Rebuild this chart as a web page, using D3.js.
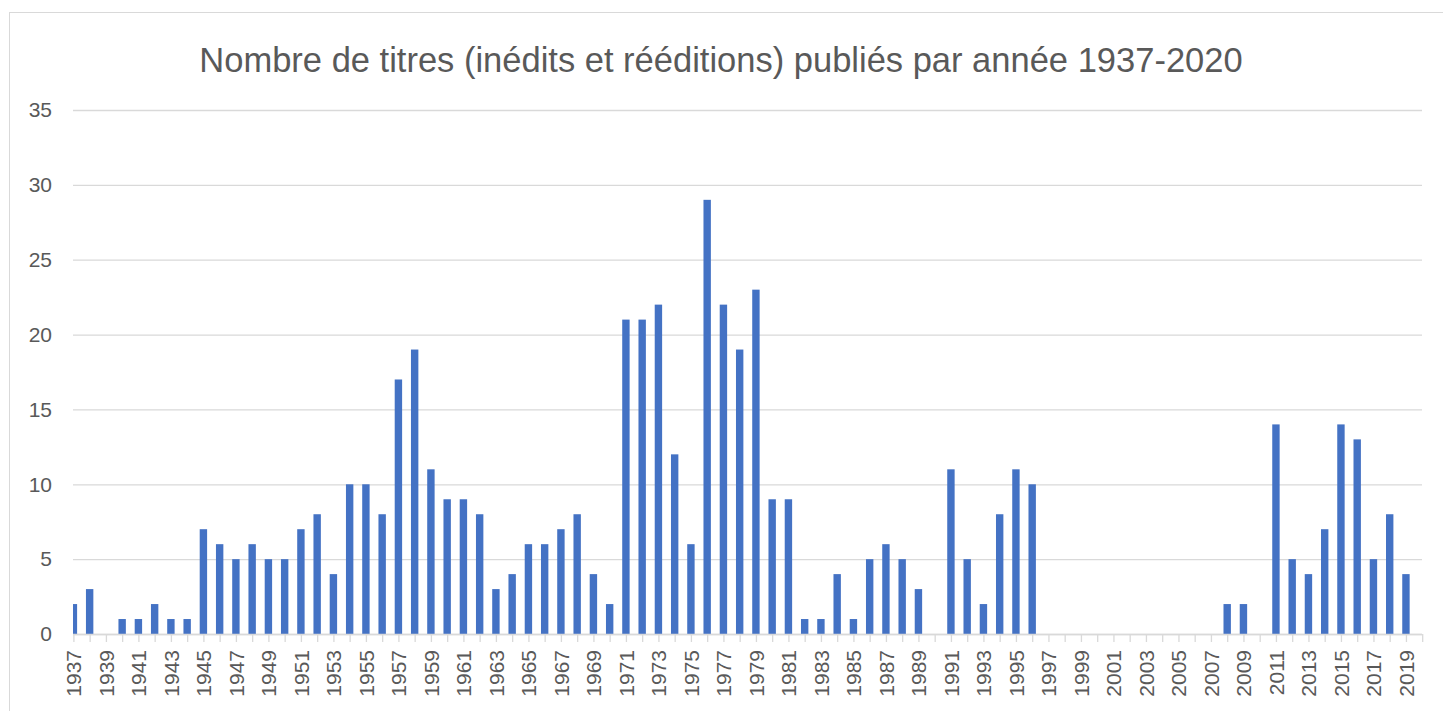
<!DOCTYPE html>
<html>
<head>
<meta charset="utf-8">
<script src="https://cdn.jsdelivr.net/npm/d3@7"></script>
<style>
  html, body { margin: 0; padding: 0; background: #fff; }
  svg { display: block; font-family: "Liberation Sans", Arial, sans-serif; }
</style>
</head>
<body>
<svg id="chart" width="1443" height="711"></svg>
<script>
const chartTitle = "Nombre de titres (inédits et rééditions) publiés par année 1937-2020";
const years = d3.range(1937, 2021).map(String);
const values = [
  2, 3, 0, 1, 1, 2, 1, 1, 7, 6,      // 1937-1946
  5, 6, 5, 5, 7, 8, 4, 10, 10, 8,    // 1947-1956
  17, 19, 11, 9, 9, 8, 3, 4, 6, 6,   // 1957-1966
  7, 8, 4, 2, 21, 21, 22, 12, 6, 29, // 1967-1976
  22, 19, 23, 9, 9, 1, 1, 4, 1, 5,   // 1977-1986
  6, 5, 3, 0, 11, 5, 2, 8, 11, 10,   // 1987-1996
  0, 0, 0, 0, 0, 0, 0, 0, 0, 0,      // 1997-2006
  0, 2, 2, 0, 14, 5, 4, 7, 14, 13,   // 2007-2016
  5, 8, 4, 0                         // 2017-2020
];
const yTicks = [0, 5, 10, 15, 20, 25, 30, 35];
const xLabelYears = years.filter((d, i) => i % 2 === 0 && d !== "2020");

const data = years.map((y, i) => ({ year: y, value: values[i] }));

const svg = d3.select("#chart");
const textColor = "#595959";
const gridColor = "#d9d9d9";
const barColor = "#4472c4";

// outer border
svg.append("rect")
  .attr("x", 9.5).attr("y", 12.5)
  .attr("width", 1460).attr("height", 720)
  .attr("fill", "none").attr("stroke", gridColor).attr("stroke-width", 1);

const plotLeft = 73, plotRight = 1422;
const x = d3.scalePoint().domain(years).range([plotLeft + 0.4, plotRight + 0.2]);
const y = d3.scaleLinear().domain([0, 35]).range([634, 110]);
const barW = 7.4;

// title
svg.append("text")
  .attr("x", 721).attr("y", 72)
  .attr("text-anchor", "middle")
  .attr("fill", textColor)
  .attr("font-size", 34.5)
  .text(chartTitle);

// y gridlines + labels
const yAxis = svg.append("g")
  .attr("transform", `translate(${plotLeft},0)`)
  .call(d3.axisLeft(y).tickValues(yTicks).tickSize(-(plotRight - plotLeft)).tickPadding(21).tickFormat(d3.format("d")));
yAxis.select(".domain").remove();
yAxis.selectAll(".tick line").attr("stroke", gridColor).attr("stroke-width", 1.3);
yAxis.selectAll(".tick text").attr("fill", textColor).attr("font-size", 21)
  .attr("font-family", "Liberation Sans, Arial, sans-serif");

// bars
svg.append("clipPath").attr("id", "plotclip")
  .append("rect").attr("x", plotLeft).attr("y", 0).attr("width", plotRight - plotLeft + 10).attr("height", 700);

svg.append("g").attr("clip-path", "url(#plotclip)")
  .selectAll("rect.bar")
  .data(data.filter(d => d.value > 0))
  .join("rect")
  .attr("class", "bar")
  .attr("x", d => x(d.year) - barW / 2)
  .attr("width", barW)
  .attr("y", d => y(d.value))
  .attr("height", d => y(0) - y(d.value))
  .attr("fill", barColor);

// x axis
const xAxis = svg.append("g")
  .attr("transform", `translate(0,${y(0)})`)
  .call(d3.axisBottom(x).tickSize(8).tickPadding(8)
    .tickFormat(d => xLabelYears.includes(d) ? d : ""));
xAxis.select(".domain").attr("stroke", gridColor).attr("stroke-width", 1.3)
  .attr("d", `M${plotLeft},0.5H${plotRight}`);
xAxis.selectAll(".tick line").attr("stroke", gridColor).attr("stroke-width", 1.3);
xAxis.selectAll(".tick text")
  .attr("fill", textColor)
  .attr("font-size", 21)
  .attr("font-family", "Liberation Sans, Arial, sans-serif")
  .attr("text-anchor", "end")
  .attr("transform", "rotate(-90)")
  .attr("x", -16)
  .attr("y", 0)
  .attr("dy", "0.35em");
</script>
</body>
</html>
